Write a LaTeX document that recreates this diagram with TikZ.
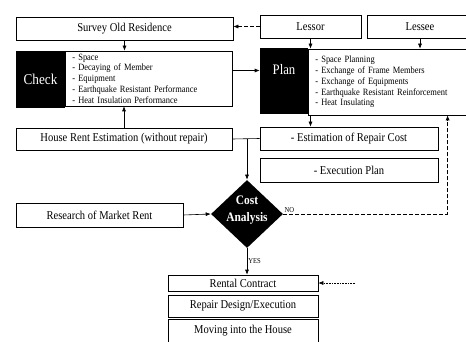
\documentclass[tikz,border=0pt]{standalone}
\usepackage{fontspec}
\setmainfont{Liberation Serif}[FakeStretch=0.88]
\usetikzlibrary{arrows.meta,shapes.geometric}

\begin{document}
\begin{tikzpicture}[x=1pt, y=-1pt, >={Latex[length=5pt,width=4pt]}, line width=0.6pt,
  box/.style={draw, inner sep=0pt, font=\fontsize{12}{13}\selectfont},
  blk/.style={fill=black, inner sep=0pt, text=white, font=\fontsize{15}{16}\selectfont},
  lst/.style={draw, anchor=west, align=left, inner xsep=7pt, inner ysep=0pt, font=\fontsize{9.6}{10.8}\selectfont},
  dashln/.style={dash pattern=on 4pt off 2pt},
  lbl/.style={font=\fontsize{7.5}{8}\selectfont, inner sep=1pt}]

\useasboundingbox (0,0) rectangle (466,342);

% Top row
\node[box, minimum width=217, minimum height=23] (survey) at (124.5,28.5) {Survey Old Residence};
\node[box, minimum width=101, minimum height=23] (lessor) at (310.5,26.5) {Lessor};
\node[box, minimum width=106, minimum height=23] (lessee) at (420,26.5) {Lessee};

% Check
\node[blk, minimum width=49, minimum height=57] (checkblk) at (40.5,79.5) {Check};
\node[lst, text width=153, minimum height=55] (checklist) at (65,78.5) {- Space\\- Decaying of Member\\- Equipment\\- Earthquake Resistant Performance\\- Heat Insulation Performance};

% Plan
\node[blk, minimum width=48, minimum height=66, label={[white, font=\fontsize{14.5}{16}\selectfont, yshift=11pt]center:Plan}] (planblk) at (284,81) {};
\node[lst, text width=158, minimum height=66] (planlist) at (308,82) {- Space Planning\\- Exchange of Frame Members\\- Exchange of Equipments\\- Earthquake Resistant Reinforcement\\- Heat Insulating};

% Estimations
\node[box, minimum width=216, minimum height=22] (rent) at (124,139) {House Rent Estimation (without repair)};
\node[box, minimum width=178, minimum height=23] (repcost) at (349,138.5) {- Estimation of Repair Cost};
\node[box, minimum width=178, minimum height=24] (execplan) at (349,170) {- Execution Plan};

% Decision
\node[diamond, fill=black, inner sep=0pt, minimum width=72, minimum height=68,
  label={[white, align=center, yshift=4pt, font=\bfseries\fontsize{13}{17}\selectfont]center:Cost\\Analysis}] (cost) at (247,214) {};
\node[box, minimum width=167, minimum height=24] (research) at (99.5,215) {Research of Market Rent};

% Bottom stack
\node[box, minimum width=150, minimum height=16] (rental) at (243,283) {Rental Contract};
\node[box, minimum width=150, minimum height=22] (repair) at (243,306) {Repair Design/Execution};
\node[box, minimum width=150, minimum height=23] (moving) at (243,331) {Moving into the House};

% Connectors
\draw[->, dashln] (lessor.west) -- (survey.east |- lessor.west);
\draw[->] (survey.south) -- (survey.south |- checklist.north);
\draw[->] ([yshift=8pt]checklist.east) -- ([yshift=8pt]checklist.east -| planblk.west);
\draw[->] (lessor.south) -- (lessor.south |- planlist.north);
\draw[->] (lessee.south) -- (lessee.south |- planlist.north);
\draw[->] (rent.north) -- (rent.north |- checklist.south);
\draw[->] (planlist.south -| lessor.south) -- (repcost.north -| lessor.south);
\coordinate (jn) at (cost.north |- rent.east);
\draw (rent.east) -- (repcost.west);
\draw[->] (jn) -- (cost.north);
\draw[->] (research.east) -- (cost.west);
\draw[->, dashln] (cost.east) -| ([xshift=-33pt]planlist.south east) node[pos=0, above right, lbl] {NO};
\draw[->] (cost.south) -- (cost.south |- rental.north) node[midway, right, lbl] {YES};
\coordinate (lessorin) at (355,283);
\draw[->, densely dotted] (lessorin) -- (rental.east);

\end{tikzpicture}
\end{document}
